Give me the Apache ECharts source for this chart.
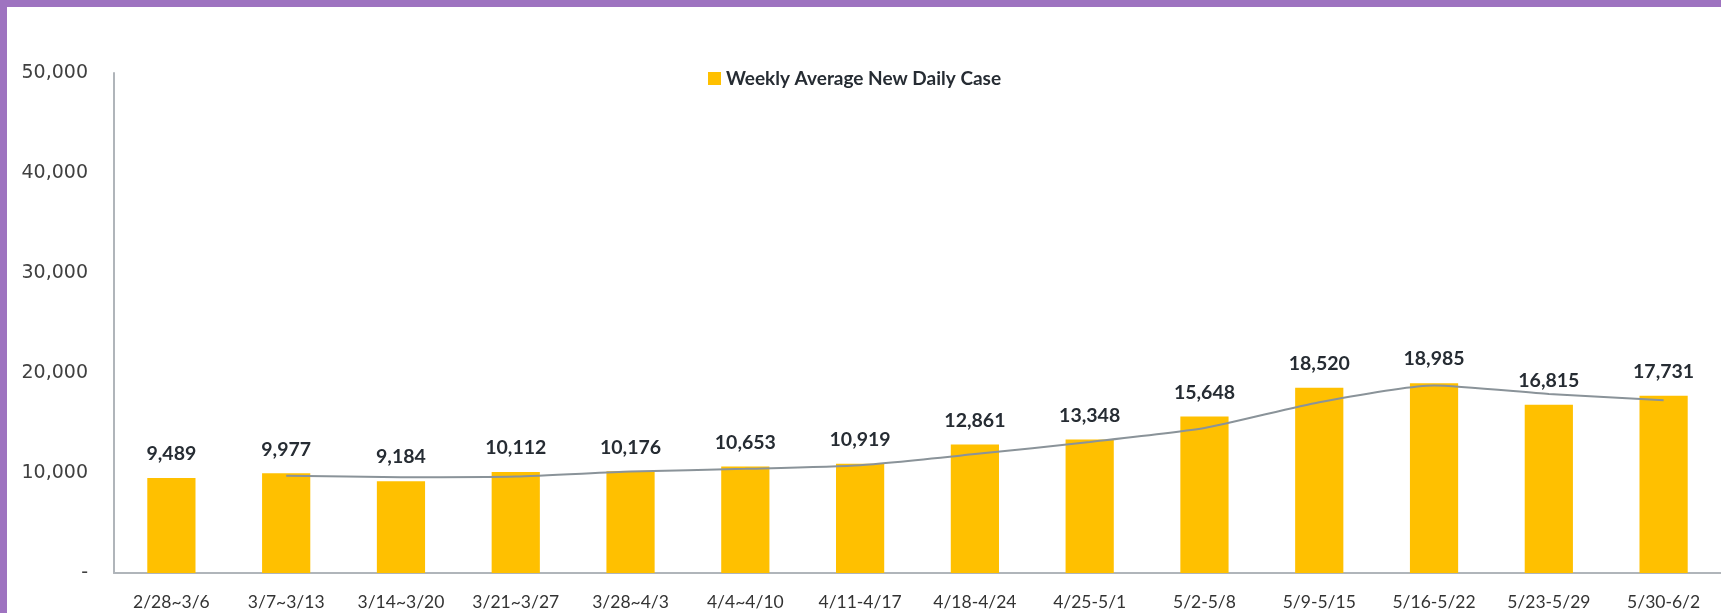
<!DOCTYPE html>
<html><head><meta charset="utf-8">
<script src="https://cdn.jsdelivr.net/npm/echarts@6/dist/echarts.min.js"></script>
<style>html,body{margin:0;padding:0;background:#fff}#c{width:1721px;height:613px}</style>
</head><body><div id="c"></div>
<script>
var categories = ["2/28~3/6","3/7~3/13","3/14~3/20","3/21~3/27","3/28~4/3","4/4~4/10","4/11-4/17","4/18-4/24","4/25-5/1","5/2-5/8","5/9-5/15","5/16-5/22","5/23-5/29","5/30-6/2"];
var weeklyAvg = [9489, 9977, 9184, 10112, 10176, 10653, 10919, 12861, 13348, 15648, 18520, 18985, 16815, 17731];
var trendLine = [null, 9733, 9581, 9648, 10144, 10415, 10786, 11890, 13105, 14498, 17084, 18753, 17900, 17273];
var yTicks = [0, 10000, 20000, 30000, 40000, 50000];

var chart = echarts.init(document.getElementById('c'));
chart.setOption({
  animation: false,
  graphic: [
    {type:'rect', shape:{x:0,y:0,width:1721,height:7}, style:{fill:'#9E73C0'}},
    {type:'rect', shape:{x:0,y:0,width:7,height:613}, style:{fill:'#9E73C0'}}
  ],
  legend: {
    data: [{name:'Weekly Average New Daily Case', icon:'rect'}],
    left: 703, top: 64,
    itemWidth: 13, itemHeight: 13, itemGap: 5,
    textStyle: {fontFamily:'Lato', fontWeight:'bold', fontSize:19, color:'#262C33'}
  },
  grid: {left: 114, right: -3, top: 73, bottom: 40, containLabel: false},
  xAxis: {
    type: 'category', data: categories,
    axisLine: {lineStyle:{color:'#B0B5BA', width:2}},
    axisTick: {show:false},
    axisLabel: {fontFamily:'Lato', fontSize:17.5, color:'#333', margin:20, interval:0}
  },
  yAxis: {
    type: 'value', min: 0, max: 50000, interval: 10000,
    axisLine: {show:true, lineStyle:{color:'#B0B5BA', width:2}},
    axisTick: {show:false},
    splitLine: {show:false},
    axisLabel: {
      fontFamily:'DejaVu Sans', fontSize:19, color:'#404040', margin:26,
      formatter: function(v){ return v === 0 ? '-' : v.toLocaleString('en-US'); }
    }
  },
  series: [
    {
      name: 'Weekly Average New Daily Case', type: 'bar', data: weeklyAvg,
      barWidth: '42%',
      itemStyle: {color:'#FFC000'},
      label: {
        show: true, position: 'top', distance: 14,
        fontFamily:'Lato', fontWeight:'bold', fontSize:19.5, color:'#262C33',
        formatter: function(p){ return p.value.toLocaleString('en-US'); }
      }
    },
    {
      name: 'trend', type: 'line', data: trendLine, smooth: 0.2,
      showSymbol: false, symbol: 'none',
      lineStyle: {color:'#8A9399', width:2},
      connectNulls: false, z: 5
    }
  ]
});
</script></body></html>
